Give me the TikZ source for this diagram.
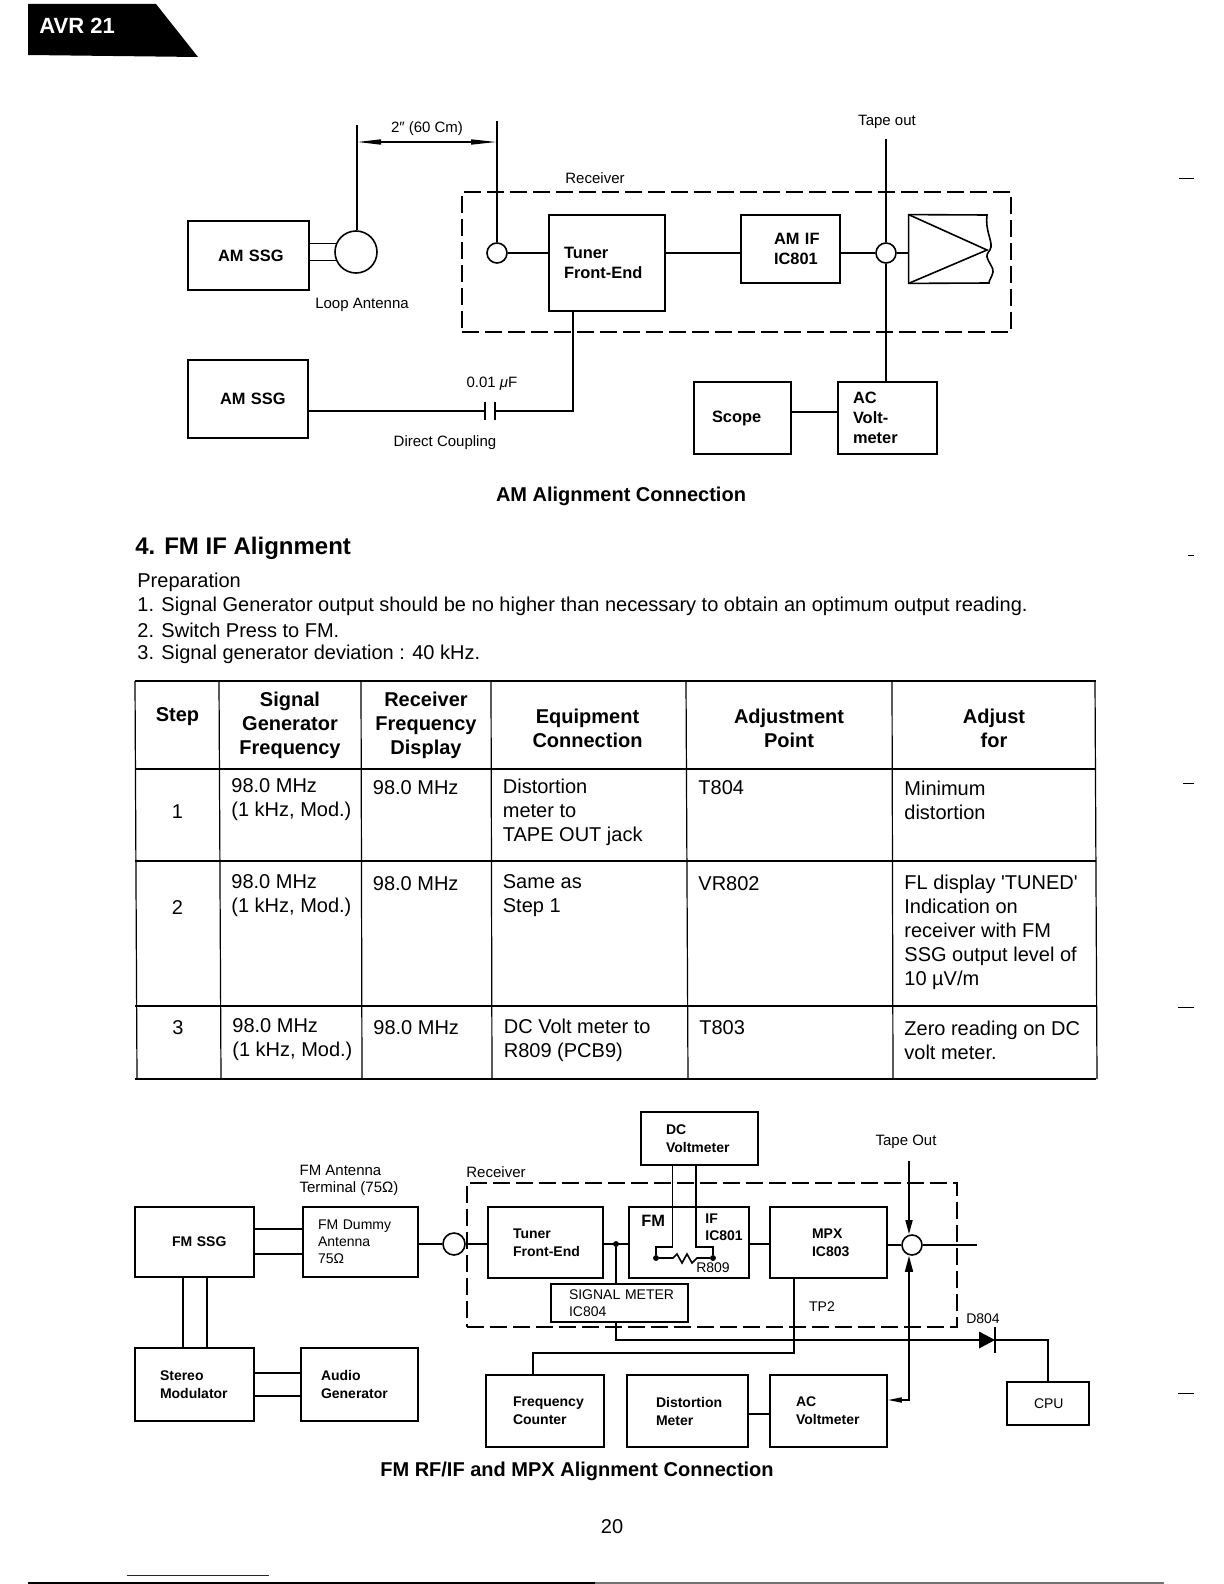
\documentclass[tikz,border=0pt]{standalone}
\usepackage{fontspec}
\setmainfont{Liberation Sans}
\usetikzlibrary{arrows}
\usetikzlibrary{arrows.meta}
\newdimen\pxunit
\pxunit=.5pt
\definecolor{rulegray}{gray}{.45}
\definecolor{scanblue}{HTML}{1A1A8C}
\tikzset{
    blockbox/.style args={#1/#2/#3}{draw, line width=.8pt, rectangle, inner sep=0pt,
        minimum width=#1\pxunit, minimum height=#2\pxunit, text width=#1\pxunit,
        execute at begin node={\raggedright\leftskip=#3\pxunit\relax}},
    ambold/.style={font=\fontsize{8.2pt}{10pt}\selectfont\bfseries},
    fmbold/.style={font=\fontsize{7pt}{9pt}\selectfont\bfseries},
    fmplain/.style={font=\fontsize{7pt}{8.6pt}\selectfont},
    ringnode/.style={draw, line width=.8pt, circle, inner sep=0pt, minimum size=#1\pxunit},
    dotnode/.style={draw, fill=black, circle, inner sep=0pt, minimum size=5\pxunit},
    wirelabel/.style={inner sep=0pt, align=left, font=\fontsize{7.5pt}{8.6pt}\selectfont},
    boxpart/.style={inner sep=0pt, align=left, font=\fontsize{7pt}{8.6pt}\selectfont\bfseries},
    wire/.style={line width=.8pt},
    recvbox/.style args={#1/#2}{draw, line width=.8pt, dash pattern=on 8.5pt off 3pt, rectangle,
        inner sep=0pt, minimum width=#1\pxunit, minimum height=#2\pxunit},
    celltext/.style={anchor=west, inner sep=0pt, align=left, font=\fontsize{10pt}{12pt}\selectfont},
    headtext/.style={inner sep=0pt, align=center, font=\fontsize{10pt}{12pt}\selectfont\bfseries},
    pagetext/.style={inner sep=0pt, anchor=west, font=\fontsize{10pt}{12pt}\selectfont},
    captext/.style={inner sep=0pt, font=\fontsize{10pt}{12pt}\selectfont\bfseries}
}
\begin{document}
\begin{tikzpicture}[x=.5pt,y=-.5pt]
    \useasboundingbox (0,0) rectangle (1224,1584);
    \fill (28,4) -- (156,4) -- (198,57) -- (28,55) -- cycle;
    \node[anchor=west, inner sep=0pt, text=white, font=\fontsize{11pt}{12pt}\selectfont\bfseries] (tabtext) at (39,26) {AVR 21};

    \node[recvbox={549/140}] (recvA) at (736.5,262) {};
    \node[wirelabel] (recvlabelA) at (595,178) {Receiver};
    \node[blockbox={121/69/30}, ambold] (amssgA) at (248.5,255.5) {AM SSG};
    \node[blockbox={120/78/32}, ambold] (amssgB) at (248,399) {AM SSG};
    \node[blockbox={116/96/15}, ambold] (tunerA) at (607,263) {Tuner\\Front-End};
    \node[blockbox={99/68/33}, ambold] (amifA) at (790.5,249) {AM IF\\IC801};
    \node[blockbox={97/72/18}, ambold] (scopeA) at (742.5,418) {Scope};
    \node[blockbox={99/72/15}, ambold] (voltA) at (887.5,418) {AC\\Volt-\\meter};
    \node[ringnode=42] (loopA) at (356,252) {};
    \node[ringnode=20] (jackA) at (497,253) {};
    \node[ringnode=20] (ringA) at (886,253) {};
    \node[inner sep=0pt, minimum width=78\pxunit, minimum height=68\pxunit] (ampA) at (948,249) {};
    \coordinate (loopTop) at (357,125);
    \coordinate (jackTop) at (497,121);
    \coordinate (tapeA) at (886,139);
    \coordinate (dimL) at (357,142);
    \coordinate (dimR) at (497,142);
    \coordinate (capL) at (485,411);
    \coordinate (capR) at (495,411);
    \coordinate (dropA) at (573,411);
    \coordinate (scopeTap) at (800,412);

    \draw[wire] (loopTop) -- (loopTop|-loopA.north);
    \draw[wire] (jackTop) -- (jackA);
    \draw[wire, arrows={Triangle[length=12pt,width=2.5pt]-Triangle[length=13pt,width=2.5pt]}] (dimL) -- (dimR);
    \draw[wire] (amssgA.east|-loopA.157) -- (loopA.157);
    \draw[wire] (amssgA.east|-loopA.203) -- (loopA.203);
    \draw[wire] (jackA) -- (tunerA.west|-jackA);
    \draw[wire] (tunerA.east|-ringA) -- (amifA.west|-ringA);
    \draw[wire] (amifA.east|-ringA) -- (ringA);
    \draw[wire] (ringA) -- (ampA.west|-ringA);
    \draw[wire] (tapeA) -- (ringA);
    \draw[wire] (ringA) -- (ringA|-voltA.north);
    \draw[wire] (scopeA.east|-scopeTap) -- (voltA.west|-scopeTap);
    \draw[wire] (amssgB.east|-capL) -- (capL);
    \draw[wire] (capR) -- (dropA) -- (dropA|-tunerA.south);
    \draw[wire] (capL)++(0,-9) -- ++(0,18);
    \draw[line width=1.4pt] (capR)++(0,-9) -- ++(0,18);
    \draw[wire] (ampA.north west) -- (987,215) .. controls (985,230) and (992,240) .. (991,247) .. controls (990,252) and (986,253) .. (987,257) .. controls (988,262) and (994,268) .. (993,272) .. controls (992,277) and (989,280) .. (989,283) -- (ampA.south west) -- cycle;
    \draw[wire] (ampA.north west) -- (987,250) -- (ampA.south west);

    \node[wirelabel] (dimlabel) at (427,129) {2″ (60 Cm)};
    \node[wirelabel] (tapelabelA) at (887,122) {Tape out};
    \node[wirelabel] (looplabel) at (362,305) {Loop Antenna};
    \node[wirelabel] (caplabel) at (492,384) {0.01 \textit{μ}F};
    \node[wirelabel] (directlabel) at (445,443) {Direct Coupling};
    \node[captext] (captionA) at (621,496) {AM Alignment Connection};

    \node[anchor=west, inner sep=0pt, font=\fontsize{12pt}{14pt}\selectfont\bfseries] (sectiontitle) at (135,548) {4. FM IF Alignment};
    \node[pagetext] (prep) at (137,582) {Preparation};
    \node[pagetext] (prepA) at (137,606) {1. Signal Generator output should be no higher than necessary to obtain an optimum output reading.};
    \node[pagetext] (prepB) at (137,630) {2. Switch Press to FM.};
    \node[pagetext] (prepC) at (137,654) {3. Signal generator deviation : 40 kHz.};

    \foreach \y in {681,769,861,1006,1079}{
        \draw[line width=.6pt] (135,\y) -- (1096,\y);
    }
    \foreach \xa/\xb in {135/137,219/221,361/362,491/492,686/688,892/893,1095/1097}{
        \draw[line width=.6pt] (\xa,681) -- (\xb,1079);
    }
    \node[headtext] (headA) at (177.5,717) {Step};
    \node[headtext] (headB) at (290,725) {Signal\\Generator\\Frequency};
    \node[headtext] (headC) at (426,725) {Receiver\\Frequency\\Display};
    \node[headtext] (headD) at (587.5,728) {Equipment\\Connection};
    \node[headtext] (headE) at (789,728) {Adjustment\\Point};
    \node[headtext] (headF) at (994,728) {Adjust\\for};

    \node[headtext, font=\fontsize{10pt}{12pt}\selectfont] (stepA) at (177.5,812) {1};
    \node[celltext] (genA) at (231,800) {98.0 MHz\\(1 kHz, Mod.)};
    \node[celltext] (rcvA) at (372.5,788) {98.0 MHz};
    \node[celltext] (conA) at (502.5,812) {Distortion\\meter to\\TAPE OUT jack};
    \node[celltext] (ptA) at (698,788) {T804};
    \node[celltext] (forA) at (904,800) {Minimum\\distortion};

    \node[headtext, font=\fontsize{10pt}{12pt}\selectfont] (stepB) at (177.5,908) {2};
    \node[celltext] (genB) at (231,896) {98.0 MHz\\(1 kHz, Mod.)};
    \node[celltext] (rcvB) at (372.5,884) {98.0 MHz};
    \node[celltext] (conB) at (502.5,896) {Same as\\Step 1};
    \node[celltext] (ptB) at (698,884) {VR802};
    \node[celltext] (forB) at (904,932) {FL display \textquotesingle TUNED\textquotesingle\\Indication on\\receiver with FM\\SSG output level of\\10 µV/m};

    \node[headtext, font=\fontsize{10pt}{12pt}\selectfont] (stepC) at (178,1028) {3};
    \node[celltext] (genC) at (232,1040) {98.0 MHz\\(1 kHz, Mod.)};
    \node[celltext] (rcvC) at (373,1028) {98.0 MHz};
    \node[celltext] (conC) at (503.5,1040) {DC Volt meter to\\R809 (PCB9)};
    \node[celltext] (ptC) at (699,1028) {T803};
    \node[celltext] (forC) at (904,1040) {Zero reading on DC\\volt meter.};

    \node[recvbox={490/144}] (recvB) at (712,1255) {};
    \node[wirelabel] (recvlabelB) at (496,1172) {Receiver};
    \node[blockbox={119/70/37}, fmbold] (fmssg) at (194.5,1242) {FM SSG};
    \node[blockbox={115/70/15}, fmplain] (dummy) at (360.5,1242) {FM Dummy\\Antenna\\75Ω};
    \node[blockbox={119/73/25}, fmbold] (stereo) at (194.5,1384.5) {Stereo\\Modulator};
    \node[blockbox={117/73/20}, fmbold] (audio) at (359.5,1384.5) {Audio\\Generator};
    \node[blockbox={115/71/25}, fmbold] (tunerB) at (545.5,1242.5) {Tuner\\Front-End};
    \node[blockbox={120/71/0}, fmbold] (fmifB) at (689,1242.5) {};
    \node[blockbox={117/71/42}, fmbold] (mpxB) at (828.5,1242.5) {MPX\\IC803};
    \node[blockbox={117/53/25}, fmbold] (dcB) at (699.5,1138.5) {DC\\Voltmeter};
    \node[blockbox={137/38/18}, fmplain] (sigmeter) at (619.5,1303) {SIGNAL METER\\IC804};
    \node[blockbox={118/72/27}, fmbold] (counter) at (545,1411) {Frequency\\Counter};
    \node[blockbox={121/72/29}, fmbold] (distort) at (687.5,1411) {Distortion\\Meter};
    \node[blockbox={117/72/26}, fmbold] (voltB) at (828.5,1411) {AC\\Voltmeter};
    \node[blockbox={82/43/27}, fmplain] (cpuB) at (1048,1403.5) {CPU};
    \node[ringnode=22] (termB) at (454,1244) {};
    \node[ringnode=20] (ringB) at (912,1245) {};
    \node[dotnode] (dotA) at (616,1244) {};
    \node[dotnode] (resL) at (656,1258) {};
    \node[dotnode] (resR) at (713,1258) {};
    \node[boxpart, anchor=west, font=\fontsize{8.2pt}{10pt}\selectfont\bfseries] (fmtext) at (641,1221) {FM};
    \node[boxpart, anchor=west] (iftext) at (705,1227.5) {IF\\IC801};
    \coordinate (dcL) at (672.5,1247);
    \coordinate (dcR) at (696,1247);
    \coordinate (resA) at (673,1258);
    \coordinate (resB) at (697,1258);
    \coordinate (tapeB) at (909,1161);
    \coordinate (outB) at (977,1245);
    \coordinate (tapB) at (909,1400);
    \coordinate (mpxDrop) at (794,1353);
    \coordinate (cntDrop) at (533,1353);
    \coordinate (diodeA) at (979,1340);
    \coordinate (diodeB) at (995,1340);

    \draw[wire] ([yshift=6.5pt]fmssg.east) -- ([yshift=6.5pt]dummy.west);
    \draw[wire] ([yshift=-6pt]fmssg.east) -- ([yshift=-6pt]dummy.west);
    \draw[wire] ([xshift=-5.75pt]fmssg.south) -- ([xshift=-5.75pt]stereo.north);
    \draw[wire] ([xshift=6.25pt]fmssg.south) -- ([xshift=6.25pt]stereo.north);
    \draw[wire] ([yshift=5.75pt]stereo.east) -- ([yshift=5.75pt]audio.west);
    \draw[wire] ([yshift=-5.75pt]stereo.east) -- ([yshift=-5.75pt]audio.west);
    \draw[wire] (dummy.east|-termB) -- (termB);
    \draw[wire] (termB) -- (tunerB.west|-termB);
    \draw[wire] (tunerB.east|-dotA) -- (fmifB.west|-dotA);
    \draw[wire] (dotA) -- (dotA|-sigmeter.north);
    \draw[wire] (fmifB.east|-dotA) -- (mpxB.west|-dotA);
    \draw[wire] (mpxB.east|-ringB) -- (ringB);
    \draw[wire] (ringB) -- (outB);
    \draw[wire] (dcL|-dcB.south) -- (dcL) -- (dcL-|resL) -- (resL);
    \draw[wire] (dcR|-dcB.south) -- (dcR) -- (dcR-|resR) -- (resR);
    \draw[wire] (resL) -- (resA) -- ++(4,-4) -- ++(5,9) -- ++(5,-9) -- ++(5,9) -- (resB) -- (resR);
    \draw[wire, arrows={-Triangle[length=7pt,width=3.5pt]}] (tapeB) -- (tapeB|-ringB.north);
    \draw[wire, arrows={Triangle[length=7pt,width=2.5pt]-Triangle[length=8pt,width=4pt]}] (voltB.east|-tapB) -- (tapB) -- (tapB|-ringB.south);
    \draw[wire] (mpxDrop|-mpxB.south) -- (mpxDrop) -- (cntDrop) -- (cntDrop|-counter.north);
    \draw[wire] ([yshift=-1.5pt]distort.east) -- ([yshift=-1.5pt]voltB.west);
    \draw[wire] (dotA|-sigmeter.south) -- (dotA|-diodeA) -- (diodeA);
    \fill (diodeB) -- ([yshift=4.25pt]diodeA) -- ([yshift=-4.25pt]diodeA) -- cycle;
    \draw[wire] ([yshift=6.5pt]diodeB) -- ([yshift=-6.5pt]diodeB);
    \draw[wire] (diodeB) -| (cpuB.north);

    \node[wirelabel] (antlabel) at (349,1180.5) {FM Antenna\\Terminal (75Ω)};
    \node[wirelabel, font=\fontsize{7pt}{8.6pt}\selectfont] (rlabel) at (713,1268) {R809};
    \node[wirelabel] (tapelabelB) at (906,1142) {Tape Out};
    \node[wirelabel, font=\fontsize{7pt}{8.6pt}\selectfont] (tplabel) at (822,1307) {TP2};
    \node[wirelabel, font=\fontsize{7pt}{8.6pt}\selectfont] (dlabel) at (983,1319) {D804};
    \node[captext] (captionB) at (577,1471) {FM RF/IF and MPX Alignment Connection};
    \node[inner sep=0pt, font=\fontsize{10pt}{12pt}\selectfont] (pagenum) at (612,1527) {20};

    \foreach \xa/\y in {1179/178,1188/555,1183/783,1178/1007,1178/1393}{
        \draw[line width=.5pt] (\xa,\y) -- (1194,\y);
    }
    \draw[scanblue, line width=.5pt] (127,1575) -- (269,1575);
    \draw[black, line width=1pt] (28,1583) -- (595,1583);
    \draw[rulegray, line width=1pt] (595,1583) -- (1164,1583);
\end{tikzpicture}
\end{document}
